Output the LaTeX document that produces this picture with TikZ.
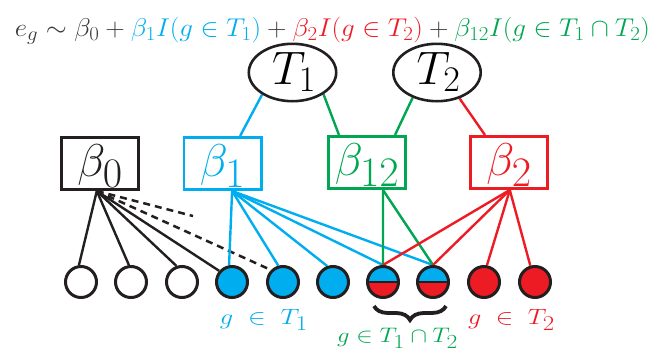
\RequirePackage{fix-cm}
\documentclass[tikz,border=0pt]{standalone}
\usetikzlibrary{shapes.geometric,calc,decorations.pathreplacing}
\DeclareMathSizes{46}{46}{42}{30}
\DeclareMathSizes{47}{47}{36}{28}
\DeclareMathSizes{22}{22}{17}{12}
\DeclareMathSizes{20}{20}{19}{14}
\definecolor{cy}{HTML}{00AEEF}
\definecolor{rd}{HTML}{ED1C24}
\definecolor{gr}{HTML}{00A651}
\definecolor{ink}{HTML}{231F20}
\definecolor{eqgray}{HTML}{3A3A3A}
\pgfdeclarelayer{bg}
\pgfsetlayers{bg,main}
\begin{document}
\begin{tikzpicture}[x=1pt,y=-1pt,
  cnode/.style={circle, draw=ink, line width=3pt, minimum size=31pt, inner sep=0pt},
  bbox/.style={rectangle, draw, line width=2.8pt, minimum width=77.2pt, minimum height=52.2pt, inner sep=0pt, font=\fontsize{46}{46}\selectfont},
  tnode/.style={ellipse, draw=ink, line width=2.6pt, minimum width=87.4pt, minimum height=57.4pt, inner sep=0pt, font=\fontsize{47}{47}\selectfont},
  conn/.style={line width=2.4pt},
  dconn/.style={line width=2.5pt, dash pattern=on 7pt off 5pt},
  lbl/.style={inner sep=0pt, outer sep=0pt},
  halfc/.style={cnode, path picture={
      \fill[rd] (path picture bounding box.west) rectangle (path picture bounding box.south east);
      \fill[cy] (path picture bounding box.north west) rectangle (path picture bounding box.east);
      \draw[ink, line width=2.6pt] (path picture bounding box.west) -- (path picture bounding box.east);}},
]
\useasboundingbox (0,0) rectangle (651,351);

% equation
\node[lbl, text=eqgray] (eq) at (332.5,30.5) {\resizebox*{635pt}{27pt}{\fontsize{22}{22}\selectfont
  $e_g \sim \beta_0 + {\color{cy}\beta_1 I(g\in T_1)} + {\color{rd}\beta_2 I(g\in T_2)} + {\color{gr}\beta_{12} I(g\in T_1\cap T_2)}$}};

% ellipses
\node[tnode] (t1) at (292.5,72.5) {\raisebox{-12pt}[0pt][0pt]{\hspace*{3pt}$T_1$}};
\node[tnode] (t2) at (437,72.5) {\raisebox{-12pt}[0pt][0pt]{\hspace*{3pt}$T_2$}};

% boxes
\node[bbox, draw=ink, text=ink] (b0) at (100,163.5) {\raisebox{-12.5pt}[0pt][0pt]{$\beta_0$}};
\node[bbox, draw=cy, text=cy] (b1) at (222.5,163.5) {\raisebox{-12.5pt}[0pt][0pt]{$\beta_1$}};
\node[bbox, draw=gr, text=gr] (b12) at (367,162.5) {\raisebox{-12.5pt}[0pt][0pt]{$\beta_{12}$}};
\node[bbox, draw=rd, text=rd] (b2) at (509,162.5) {\raisebox{-12.5pt}[0pt][0pt]{$\beta_2$}};

% circles
\node[cnode, fill=white] (c1) at (81,282) {};
\node[cnode, fill=white] (c2) at (131,282) {};
\node[cnode, fill=white] (c3) at (182,282) {};
\node[cnode, fill=cy] (c4) at (232,282) {};
\node[cnode, fill=cy] (c5) at (283,282) {};
\node[cnode, fill=cy] (c6) at (333,282) {};
\node[halfc] (c7) at (383,282) {};
\node[halfc] (c8) at (433,282) {};
\node[cnode, fill=rd] (c9) at (484,282) {};
\node[cnode, fill=rd] (c10) at (535,282) {};

% source / attach points
\coordinate (s0) at ($(b0.south west)!0.46!(b0.south east)$);
\coordinate (s1) at ($(b1.south west)!0.62!(b1.south east)$);
\coordinate (s12) at ($(b12.south west)!0.70!(b12.south east)$);
\coordinate (s2) at ($(b2.south west)!0.51!(b2.south east)$);
\coordinate (a1) at ($(b1.north west)!0.72!(b1.north east)$);
\coordinate (a12l) at ($(b12.north west)!0.15!(b12.north east)$);
\coordinate (a12r) at ($(b12.north west)!0.85!(b12.north east)$);
\coordinate (a2) at ($(b2.north west)!0.20!(b2.north east)$);
\coordinate (dend) at (193,216);

\begin{pgfonlayer}{bg}
% tree top
\draw[conn, cy] (t1.216) -- (a1);
\draw[conn, gr] (t1.325) -- (a12l);
\draw[conn, gr] (t2.226) -- (a12r);
\draw[conn, rd] (t2.311) -- (a2);
% beta0
\draw[conn, ink] (s0) -- (c1.97);
\draw[conn, ink] (s0) -- (c2.97);
\draw[conn, ink] (s0) -- (c3.109);
\draw[conn, ink] (s0) -- (c4.139);
\draw[dconn, ink] (s0) -- (c5.135);
\draw[dconn, ink] (s0) -- (dend);
% beta1
\draw[conn, cy] (s1) -- (c4.100);
\draw[conn, cy] (s1) -- (c5.106);
\draw[conn, cy] (s1) -- (c6.110);
\draw[conn, cy] (s1) -- (c7.north);
\draw[conn, cy] (s1) -- (c8.north);
% beta12
\draw[conn, gr] (s12) -- (c7.north);
\draw[conn, gr] (s12) -- (c8.north);
% beta2
\draw[conn, rd] (s2) -- (c7.north);
\draw[conn, rd] (s2) -- (c8.north);
\draw[conn, rd] (s2) -- (c9.80);
\draw[conn, rd] (s2) -- (c10.106);
\end{pgfonlayer}

% brace
\coordinate (br1) at (374,306);
\coordinate (br2) at (446,306);
\draw[ink, line width=3.8pt, decorate, decoration={brace, mirror, amplitude=14pt}] (br1) -- (br2);

% labels
\node[lbl, text=cy] (l1) at (264,319.5) {\resizebox*{88pt}{21pt}{\fontsize{20}{20}\selectfont$g\;\in\;T_1$}};
\node[lbl, text=rd] (l2) at (511.5,319.5) {\resizebox*{87pt}{21pt}{\fontsize{20}{20}\selectfont$g\;\in\;T_2$}};
\node[lbl, text=gr] (l3) at (397.5,338.5) {\resizebox*{121pt}{20pt}{\fontsize{20}{20}\selectfont$g\in T_1\cap T_2$}};
\end{tikzpicture}
\end{document}
